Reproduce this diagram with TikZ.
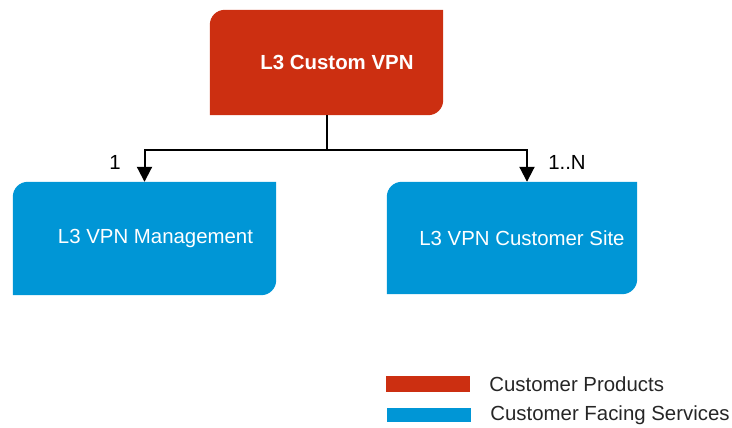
\documentclass[tikz,border=0pt]{standalone}
\usepackage{fontspec}
\setmainfont{Liberation Sans}
\usepackage{xcolor}
\usepackage{tikz}
\usetikzlibrary{positioning, arrows.meta, backgrounds}
\definecolor{l3red}{RGB}{204,47,17}
\definecolor{l3blue}{RGB}{0,150,214}
\tikzset{
  box/.style={inner sep=0pt, text=white, font=\fontsize{20.4}{24}\selectfont},
  link/.style={black, line width=2pt, -{Triangle[width=15pt,length=15pt]}},
  mult/.style={black, font=\fontsize{20.4}{24}\selectfont},
  legbar/.style={minimum width=84pt, inner sep=0pt},
  legtext/.style={inner sep=0pt, text=black!85, font=\fontsize{20.4}{24}\selectfont}
}

\begin{document}
\begin{tikzpicture}[x=1pt, y=-1pt]
      \useasboundingbox (0,0) rectangle (732,428); % same frame as the sketch
      % product and its services
      \node[box, font=\fontsize{20.4}{24}\selectfont\bfseries, minimum width=233pt, minimum height=105pt] (prod) at (326.5,62.5) {\hspace*{21pt}L3 Custom VPN};
      \node[box, minimum width=263pt, minimum height=113pt] (mgmt) at (144.5,238.5) {\hspace*{22pt}L3 VPN Management};
      \node[box, minimum width=250pt, minimum height=112pt] (site) at (512,238) {\hspace*{20pt}L3 VPN Customer Site};
      \begin{scope}[on background layer]
        \foreach \n/\c in {prod/l3red, mgmt/l3blue, site/l3blue}
          \fill[\c] (\n.south west) -- ([yshift=-15pt]\n.north west) arc[start angle=180, end angle=90, radius=15pt]
              -- (\n.north east) -- ([yshift=15pt]\n.south east) arc[start angle=0, end angle=-90, radius=15pt] -- cycle;
      \end{scope}
      % links
      \coordinate (fork) at (326.5,150);
      \draw[link] (prod.south) -- (fork) -| (mgmt.north);
      \draw[link] (fork) -| ([xshift=15pt]site.north);
      \node[mult] (one) at (115,162) {1};
      \node[mult] (many) at (567,162) {1..N};
      % legend
      \node[legbar, fill=l3red, minimum height=16pt] (legprod) at (428,384) {};
      \node[legbar, fill=l3blue, minimum height=14pt] (legcfs) at (429,415) {};
      \node[legtext, right=19pt of legprod] (legprodtext) {Customer Products};
      \node[legtext, right=19pt of legcfs] (legcfstext) {Customer Facing Services};
  \end{tikzpicture}
\end{document}
